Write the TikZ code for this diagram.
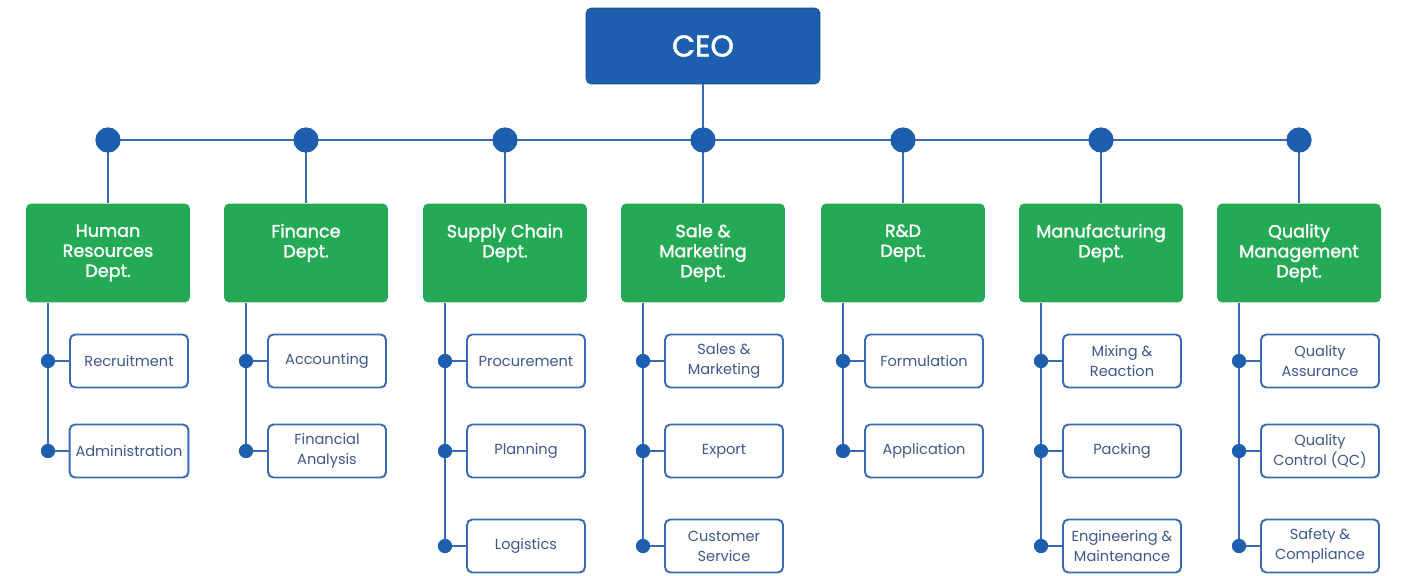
\documentclass[tikz,border=0pt]{standalone}
\usepackage{fontspec}
\setmainfont{Poppins}
\newfontfamily\deptfont[BoldFont=Poppins, BoldFeatures={FakeBold=1.6}]{Poppins}
\usepackage{tikz}
\usetikzlibrary{positioning}
\usetikzlibrary{calc}
\definecolor{ceoBlue}{RGB}{29,94,174}
\definecolor{deptGreen}{RGB}{36,170,84}
\definecolor{lineBlue}{RGB}{58,106,178}
\definecolor{subText}{RGB}{62,88,138}
\tikzset{myboxCeo/.style={draw=ceoBlue!80!black, fill=ceoBlue, rounded corners=3pt, minimum width=4.68cm, minimum height=1.52cm, text=white, font=\deptfont\bfseries\fontsize{17}{20}\selectfont}}
\tikzset{myboxDept/.style={fill=deptGreen, rounded corners=3pt, minimum width=3.28cm, minimum height=1.98cm, text=white, align=center, font=\deptfont\bfseries\fontsize{10}{11.4}\selectfont}}
\tikzset{myboxSub/.style={draw=lineBlue, line width=1.1pt, fill=white, rounded corners=3pt, minimum width=2.36cm, minimum height=1.06cm, text=subText, align=center, font=\fontsize{8.3}{11.4}\selectfont}}
\tikzset{bigDot/.style={circle, fill=ceoBlue, inner sep=0pt, minimum size=0.5cm}}
\tikzset{smallDot/.style={circle, fill=ceoBlue, inner sep=0pt, minimum size=0.28cm}}
\tikzset{link/.style={draw=lineBlue, line width=1.1pt}}

\begin{document}
\begin{tikzpicture}[x=0.02cm, y=-0.02cm]

\useasboundingbox (0,0) rectangle (1402,575);

% top level
\node[myboxCeo] (ceo) at (703, 46) {CEO};

\node[bigDot] (bus1) at (108, 140) {};
\node[bigDot] (bus2) at (306, 140) {};
\node[bigDot] (bus3) at (505, 140) {};
\node[bigDot] (bus4) at (703, 140) {};
\node[bigDot] (bus5) at (903, 140) {};
\node[bigDot] (bus6) at (1101, 140) {};
\node[bigDot] (bus7) at (1299, 140) {};

% departments
\node[myboxDept] (hr) at (108, 253) {Human\\Resources\\Dept.};
\node[myboxDept] (fin) at (306, 253) {Finance\\Dept.\\\phantom{Dept.}};
\node[myboxDept] (sup) at (505, 253) {Supply Chain\\Dept.\\\phantom{Dept.}};
\node[myboxDept] (sal) at (703, 253) {Sale \&\\Marketing\\Dept.};
\node[myboxDept] (rnd) at (903, 253) {R\&D\\Dept.\\\phantom{Dept.}};
\node[myboxDept] (mfg) at (1101, 253) {Manufacturing\\Dept.\\\phantom{Dept.}};
\node[myboxDept] (qm) at (1299, 253) {Quality\\Management\\Dept.};

% sub units
\node[myboxSub] (rec) at (129, 361) {Recruitment};
\node[myboxSub] (adm) at (129, 451) {Administration};

\node[myboxSub] (acc) at (327, 361) {Accounting};
\node[myboxSub] (fan) at (327, 451) {Financial\\Analysis};

\node[myboxSub] (pro) at (526, 361) {Procurement};
\node[myboxSub] (pla) at (526, 451) {Planning};
\node[myboxSub] (log) at (526, 546) {Logistics};

\node[myboxSub] (sam) at (724, 361) {Sales \&\\Marketing};
\node[myboxSub] (exp) at (724, 451) {Export};
\node[myboxSub] (cus) at (724, 546) {Customer\\Service};

\node[myboxSub] (frm) at (924, 361) {Formulation};
\node[myboxSub] (app) at (924, 451) {Application};

\node[myboxSub] (mix) at (1122, 361) {Mixing \&\\Reaction};
\node[myboxSub] (pac) at (1122, 451) {Packing};
\node[myboxSub] (eng) at (1122, 546) {Engineering \&\\Maintenance};

\node[myboxSub] (qas) at (1320, 361) {Quality\\Assurance};
\node[myboxSub] (qcl) at (1320, 451) {Quality\\Control (QC)};
\node[myboxSub] (saf) at (1320, 546) {Safety \&\\Compliance};

% small dots on the branch lines
\node[smallDot] (hr1) at (48, 361) {};
\node[smallDot] (hr2) at (48, 451) {};
\node[smallDot] (fin1) at (246, 361) {};
\node[smallDot] (fin2) at (246, 451) {};
\node[smallDot] (sup1) at (445, 361) {};
\node[smallDot] (sup2) at (445, 451) {};
\node[smallDot] (sup3) at (445, 546) {};
\node[smallDot] (sal1) at (643, 361) {};
\node[smallDot] (sal2) at (643, 451) {};
\node[smallDot] (sal3) at (643, 546) {};
\node[smallDot] (rnd1) at (843, 361) {};
\node[smallDot] (rnd2) at (843, 451) {};
\node[smallDot] (mfg1) at (1041, 361) {};
\node[smallDot] (mfg2) at (1041, 451) {};
\node[smallDot] (mfg3) at (1041, 546) {};
\node[smallDot] (qm1) at (1239, 361) {};
\node[smallDot] (qm2) at (1239, 451) {};
\node[smallDot] (qm3) at (1239, 546) {};

% connectors
\draw[link] (ceo.south) -- (bus4.center);
\draw[link] (bus1.center) -- (bus7.center);
\draw[link] (bus1.center) -- (hr.north);
\draw[link] (bus2.center) -- (fin.north);
\draw[link] (bus3.center) -- (sup.north);
\draw[link] (bus4.center) -- (sal.north);
\draw[link] (bus5.center) -- (rnd.north);
\draw[link] (bus6.center) -- (mfg.north);
\draw[link] (bus7.center) -- (qm.north);

\draw[link] (hr.south -| hr1) -- (hr2.center);
\draw[link] (fin.south -| fin1) -- (fin2.center);
\draw[link] (sup.south -| sup1) -- (sup3.center);
\draw[link] (sal.south -| sal1) -- (sal3.center);
\draw[link] (rnd.south -| rnd1) -- (rnd2.center);
\draw[link] (mfg.south -| mfg1) -- (mfg3.center);
\draw[link] (qm.south -| qm1) -- (qm3.center);

\draw[link] (hr1) -- (rec);
\draw[link] (hr2) -- (adm);
\draw[link] (fin1) -- (acc);
\draw[link] (fin2) -- (fan);
\draw[link] (sup1) -- (pro);
\draw[link] (sup2) -- (pla);
\draw[link] (sup3) -- (log);
\draw[link] (sal1) -- (sam);
\draw[link] (sal2) -- (exp);
\draw[link] (sal3) -- (cus);
\draw[link] (rnd1) -- (frm);
\draw[link] (rnd2) -- (app);
\draw[link] (mfg1) -- (mix);
\draw[link] (mfg2) -- (pac);
\draw[link] (mfg3) -- (eng);
\draw[link] (qm1) -- (qas);
\draw[link] (qm2) -- (qcl);
\draw[link] (qm3) -- (saf);

% redraw dots on top of the lines
\foreach \d in {bus1,bus2,bus3,bus4,bus5,bus6,bus7}
  \fill[ceoBlue] (\d) circle (0.25cm);
\foreach \d in {hr1,hr2,fin1,fin2,sup1,sup2,sup3,sal1,sal2,sal3,rnd1,rnd2,mfg1,mfg2,mfg3,qm1,qm2,qm3}
  \fill[ceoBlue] (\d) circle (0.14cm);

\end{tikzpicture}
\end{document}
